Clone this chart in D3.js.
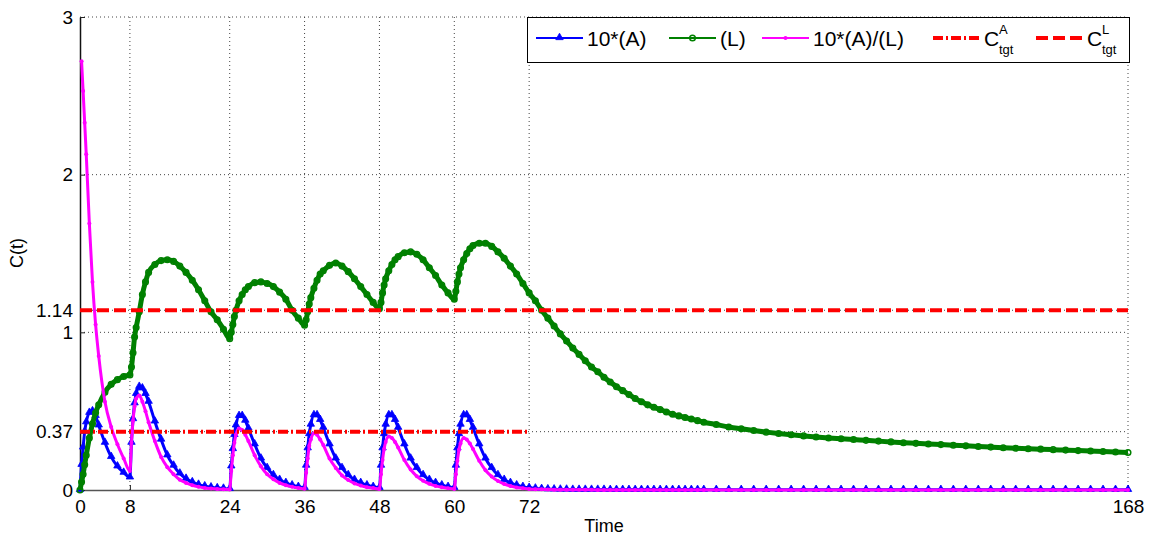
<!DOCTYPE html>
<html>
<head>
<meta charset="utf-8">
<script src="https://cdn.jsdelivr.net/npm/d3@7"></script>
<style>
  body { margin: 0; background: #fff; }
  text { font-family: "Liberation Sans", Arial, sans-serif; fill: #000; }
</style>
</head>
<body>
<script>
"use strict";

// time points (hours)
const times = [0,0.25,0.5,0.75,1,1.5,2,2.5,3,4,5,6,7,
  8,8.25,8.5,8.75,9,9.5,10,10.5,11,12,13,14,15,16,17,18,19,20,21,22,23,
  24,24.25,24.5,24.75,25,25.5,26,26.5,27,28,29,30,31,32,33,34,35,
  36,36.25,36.5,36.75,37,37.5,38,38.5,39,40,41,42,43,44,45,46,47,
  48,48.25,48.5,48.75,49,49.5,50,50.5,51,52,53,54,55,56,57,58,59,
  60,60.25,60.5,60.75,61,61.5,62,62.5,63,64,65,66,67,68,69,70,71,
  72,73,74,75,76,77,78,79,80,81,82,83,84,85,86,87,88,89,90,91,92,93,94,95,96,97,98,99,
  100,102,104,106,108,110,112,114,116,118,120,122,124,126,128,130,132,134,136,138,140,
  142,144,146,148,150,152,154,156,158,160,162,164,166,168]

// 10*(A)
const seriesA = [0,0.16,0.27,0.37,0.43,0.49,0.50,0.47,0.41,0.30,0.21,0.15,0.11,
  0.08,0.30,0.45,0.55,0.61,0.655,0.645,0.61,0.56,0.435,0.32,0.22,0.155,0.105,0.072,0.05,0.034,0.024,0.017,0.012,0.009,
  0.007,0.15,0.26,0.35,0.41,0.47,0.47,0.44,0.39,0.29,0.20,0.14,0.095,0.065,0.045,0.03,0.02,
  0.014,0.155,0.265,0.355,0.415,0.475,0.475,0.445,0.395,0.29,0.20,0.14,0.095,0.065,0.045,0.03,0.02,
  0.014,0.155,0.265,0.355,0.415,0.475,0.475,0.445,0.395,0.29,0.20,0.14,0.095,0.065,0.045,0.03,0.02,
  0.014,0.155,0.265,0.355,0.415,0.475,0.475,0.445,0.395,0.29,0.20,0.14,0.095,0.065,0.045,0.03,0.02,
  0.014,0.010,0.007,0.005,0.004,0.003,0.003,0.002,0.002,0.002,0.002,0.002,0.002,0.001,0.001,0.001,0.001,0.001,0.001,0.001,0.001,0.001,0.001,0.001,0.001,0.001,0.001,0.001,
  0.001,0.001,0.001,0.001,0.001,0.001,0.001,0.001,0.001,0.001,0.001,0.001,0.001,0.001,0.001,0.001,0.001,0.001,0.001,0.001,0.001,
  0.001,0.001,0.001,0.001,0.001,0.001,0.001,0.001,0.001,0.001,0.001,0.001,0.001,0.001]

// (L)
const seriesL = [0,0.05,0.10,0.16,0.22,0.33,0.42,0.49,0.54,0.62,0.67,0.70,0.72,
  0.73,0.78,0.87,0.97,1.03,1.13,1.24,1.32,1.38,1.43,1.455,1.46,1.45,1.42,1.38,1.33,1.27,1.20,1.13,1.08,1.02,
  0.96,1.00,1.05,1.10,1.14,1.20,1.24,1.27,1.29,1.315,1.32,1.31,1.29,1.255,1.21,1.14,1.09,
  1.045,1.08,1.13,1.18,1.22,1.28,1.33,1.37,1.39,1.425,1.44,1.42,1.385,1.34,1.29,1.24,1.19,
  1.15,1.19,1.25,1.30,1.34,1.39,1.43,1.46,1.48,1.505,1.51,1.495,1.46,1.41,1.36,1.30,1.25,
  1.21,1.26,1.32,1.37,1.41,1.46,1.50,1.53,1.55,1.565,1.565,1.545,1.51,1.47,1.42,1.37,1.31,
  1.25,1.20,1.14,1.09,1.04,0.99,0.945,0.90,0.86,0.82,0.78,0.75,0.715,0.685,0.655,0.63,0.605,0.58,0.56,0.54,0.525,0.51,0.495,0.48,0.47,0.46,0.45,0.44,
  0.43,0.415,0.40,0.388,0.377,0.367,0.358,0.35,0.343,0.336,0.33,0.325,0.32,0.315,0.31,0.305,0.30,0.296,0.292,0.288,0.284,
  0.28,0.276,0.272,0.268,0.265,0.262,0.259,0.256,0.253,0.25,0.247,0.244,0.241,0.238]

// 10*(A)/(L)  (undefined at t = 0)
const seriesAL = [null,2.72,2.53,2.33,2.13,1.69,1.32,1.05,0.85,0.56,0.40,0.29,0.20,
  0.12,0.30,0.44,0.53,0.58,0.60,0.56,0.50,0.43,0.31,0.21,0.145,0.10,0.065,0.045,0.03,0.02,0.013,0.009,0.006,0.004,
  0.003,0.12,0.22,0.30,0.35,0.39,0.38,0.35,0.31,0.22,0.15,0.10,0.068,0.045,0.03,0.02,0.013,
  0.008,0.11,0.20,0.28,0.32,0.36,0.35,0.32,0.285,0.20,0.14,0.092,0.063,0.042,0.028,0.018,0.012,
  0.007,0.10,0.19,0.26,0.305,0.34,0.33,0.305,0.27,0.19,0.13,0.087,0.059,0.039,0.026,0.017,0.011,
  0.007,0.10,0.185,0.255,0.295,0.33,0.32,0.295,0.26,0.185,0.125,0.085,0.057,0.038,0.025,0.016,0.011,
  0.007,0.005,0.004,0.003,0.002,0.002,0.001,0.001,0.001,0.001,0.001,0,0,0,0,0,0,0,0,0,0,0,0,0,0,0,0,0,
  0,0,0,0,0,0,0,0,0,0,0,0,0,0,0,0,0,0,0,0,0,
  0,0,0,0,0,0,0,0,0,0,0,0,0,0]

const xTicks = [0, 8, 24, 36, 48, 60, 72, 168]
const yTicks = [0, 0.37, 1, 1.14, 2, 3]

const targetA = 0.37   // C^A_tgt, drawn over 0..72
const targetAEnd = 72
const targetL = 1.14   // C^L_tgt

const legendLabels = ["10*(A)", "(L)", "10*(A)/(L)", "C", "C"]
const legendSup = ["", "", "", "A", "L"]

const measurements = {
    width: 1156,
    height: 540,
    left: 80,
    right: 1128,
    top: 17,
    bottom: 490
}

const colors = { A: "#0000ff", L: "#008000", AL: "#ff00ff", tgt: "#ff0000" }

const svg = d3.select("body").append("svg")
    .attr("width", measurements.width)
    .attr("height", measurements.height)

const scaleX = d3.scaleLinear().domain([0, 168]).range([measurements.left, measurements.right])
const scaleY = d3.scaleLinear().domain([0, 3]).range([measurements.bottom, measurements.top])

drawGrid()
drawAxes()
// the markers are packed so close in the original that they read as a thick band
drawSeries(seriesA, colors.A, "triangle", 3)
drawSeries(seriesL, colors.L, "circle", 5)
drawSeries(seriesAL, colors.AL, "dot", 3)
drawTargets()
drawLegend()

function drawGrid() {
    const g = svg.append("g")
    g.selectAll(".vgrid").data(xTicks.filter(d => d > 0)).enter().append("line")
        .attr("x1", d => scaleX(d)).attr("x2", d => scaleX(d))
        .attr("y1", measurements.top).attr("y2", measurements.bottom)
        .attr("stroke", "#444").attr("stroke-width", 1).attr("stroke-dasharray", "1,3")
    g.selectAll(".hgrid").data(yTicks.filter(d => d > 0)).enter().append("line")
        .attr("x1", measurements.left).attr("x2", measurements.right)
        .attr("y1", d => scaleY(d)).attr("y2", d => scaleY(d))
        .attr("stroke", "#444").attr("stroke-width", 1).attr("stroke-dasharray", "1,3")
}

function drawAxes() {
    // ticks point inward like matlab
    const xAxis = d3.axisBottom(scaleX).tickValues(xTicks).tickSize(-5).tickPadding(10).tickSizeOuter(0)
    const yAxis = d3.axisLeft(scaleY).tickValues(yTicks).tickSize(-5).tickPadding(7).tickSizeOuter(0)
        .tickFormat(d => d === 0 ? "0" : String(d))

    const gx = svg.append("g")
        .attr("transform", `translate(0,${measurements.bottom})`)
        .call(xAxis)
    gx.select(".domain").attr("stroke", "#555").attr("stroke-width", 1.5)
    gx.selectAll(".tick line").attr("stroke", "#222")
    gx.selectAll("text").attr("font-size", 19).attr("font-family", "Liberation Sans, Arial")
        .attr("fill", "#000")

    const gy = svg.append("g")
        .attr("transform", `translate(${measurements.left},0)`)
        .call(yAxis)
    gy.select(".domain").attr("stroke", "#111").attr("stroke-width", 1.5)
    gy.selectAll(".tick line").attr("stroke", "#222")
    gy.selectAll("text").attr("font-size", 19).attr("font-family", "Liberation Sans, Arial")
        .attr("fill", "#000")

    svg.append("text")
        .attr("x", (measurements.left + measurements.right) / 2)
        .attr("y", 532)
        .attr("text-anchor", "middle")
        .attr("font-size", 18)
        .text("Time")

    svg.append("text")
        .attr("transform", "translate(23,253) rotate(-90)")
        .attr("text-anchor", "middle")
        .attr("font-size", 18)
        .text("C(t)")
}

function drawSeries(values, color, marker, width) {
    const pts = times.map((t, i) => ({ t: t, v: values[i] }))
    const line = d3.line()
        .defined(d => d.v !== null)
        .x(d => scaleX(d.t))
        .y(d => scaleY(d.v))
        .curve(d3.curveMonotoneX)

    svg.append("path")
        .datum(pts)
        .attr("d", line)
        .attr("fill", "none")
        .attr("stroke", color)
        .attr("stroke-width", width)
        .attr("stroke-linejoin", "round")

    const shown = pts.filter(d => d.v !== null)
    drawMarkers(svg.append("g"), shown.map(d => [scaleX(d.t), scaleY(d.v)]), color, marker)
}

function drawMarkers(g, xy, color, marker) {
    if (marker === "triangle") {
        g.selectAll("path").data(xy).enter().append("path")
            .attr("d", d3.symbol().type(d3.symbolTriangle).size(24))
            .attr("transform", d => `translate(${d[0]},${d[1] - 0.5})`)
            .attr("fill", color).attr("stroke", color).attr("stroke-width", 0.8)
    } else if (marker === "circle") {
        g.selectAll("circle").data(xy).enter().append("circle")
            .attr("cx", d => d[0]).attr("cy", d => d[1]).attr("r", 2.8)
            .attr("fill", "none").attr("stroke", color).attr("stroke-width", 1.5)
    } else {
        g.selectAll("circle").data(xy).enter().append("circle")
            .attr("cx", d => d[0]).attr("cy", d => d[1]).attr("r", 2)
            .attr("fill", color)
    }
}

function drawTargets() {
    svg.append("line")
        .attr("x1", scaleX(0)).attr("x2", scaleX(targetAEnd))
        .attr("y1", scaleY(targetA)).attr("y2", scaleY(targetA))
        .attr("stroke", colors.tgt).attr("stroke-width", 4)
        .attr("stroke-dasharray", "10,3,2,3")
    svg.append("line")
        .attr("x1", scaleX(0)).attr("x2", scaleX(168))
        .attr("y1", scaleY(targetL)).attr("y2", scaleY(targetL))
        .attr("stroke", colors.tgt).attr("stroke-width", 4)
        .attr("stroke-dasharray", "12,5")
}

function drawLegend() {
    const g = svg.append("g")
    g.append("rect")
        .attr("x", 527.5).attr("y", 17.5).attr("width", 602).attr("height", 45)
        .attr("fill", "#fff").attr("stroke", "#000").attr("stroke-width", 1)

    const ly = 38
    const items = [
        { x: 536, color: colors.A, marker: "triangle", dash: null },
        { x: 669, color: colors.L, marker: "circle", dash: null },
        { x: 762, color: colors.AL, marker: "dot", dash: null },
        { x: 933, color: colors.tgt, marker: null, dash: "10,3,2,3" },
        { x: 1036, color: colors.tgt, marker: null, dash: "12,5" }
    ]
    items.forEach((it, i) => {
        const isTgt = it.marker === null
        g.append("line")
            .attr("x1", it.x).attr("x2", it.x + 47)
            .attr("y1", ly).attr("y2", ly)
            .attr("stroke", it.color)
            .attr("stroke-width", isTgt ? 4 : 2)
            .attr("stroke-dasharray", it.dash)
        if (!isTgt) drawMarkers(g.append("g"), [[it.x + 23.5, ly]], it.color, it.marker)

        const tx = it.x + 51
        g.append("text").attr("x", tx).attr("y", ly + 8)
            .attr("font-size", 21).text(legendLabels[i])
        if (legendSup[i]) {
            g.append("text").attr("x", tx + 15).attr("y", ly - 4)
                .attr("font-size", 13).text(legendSup[i])
            g.append("text").attr("x", tx + 15).attr("y", ly + 16)
                .attr("font-size", 13).text("tgt")
        }
    })
}
</script>
</body>
</html>
